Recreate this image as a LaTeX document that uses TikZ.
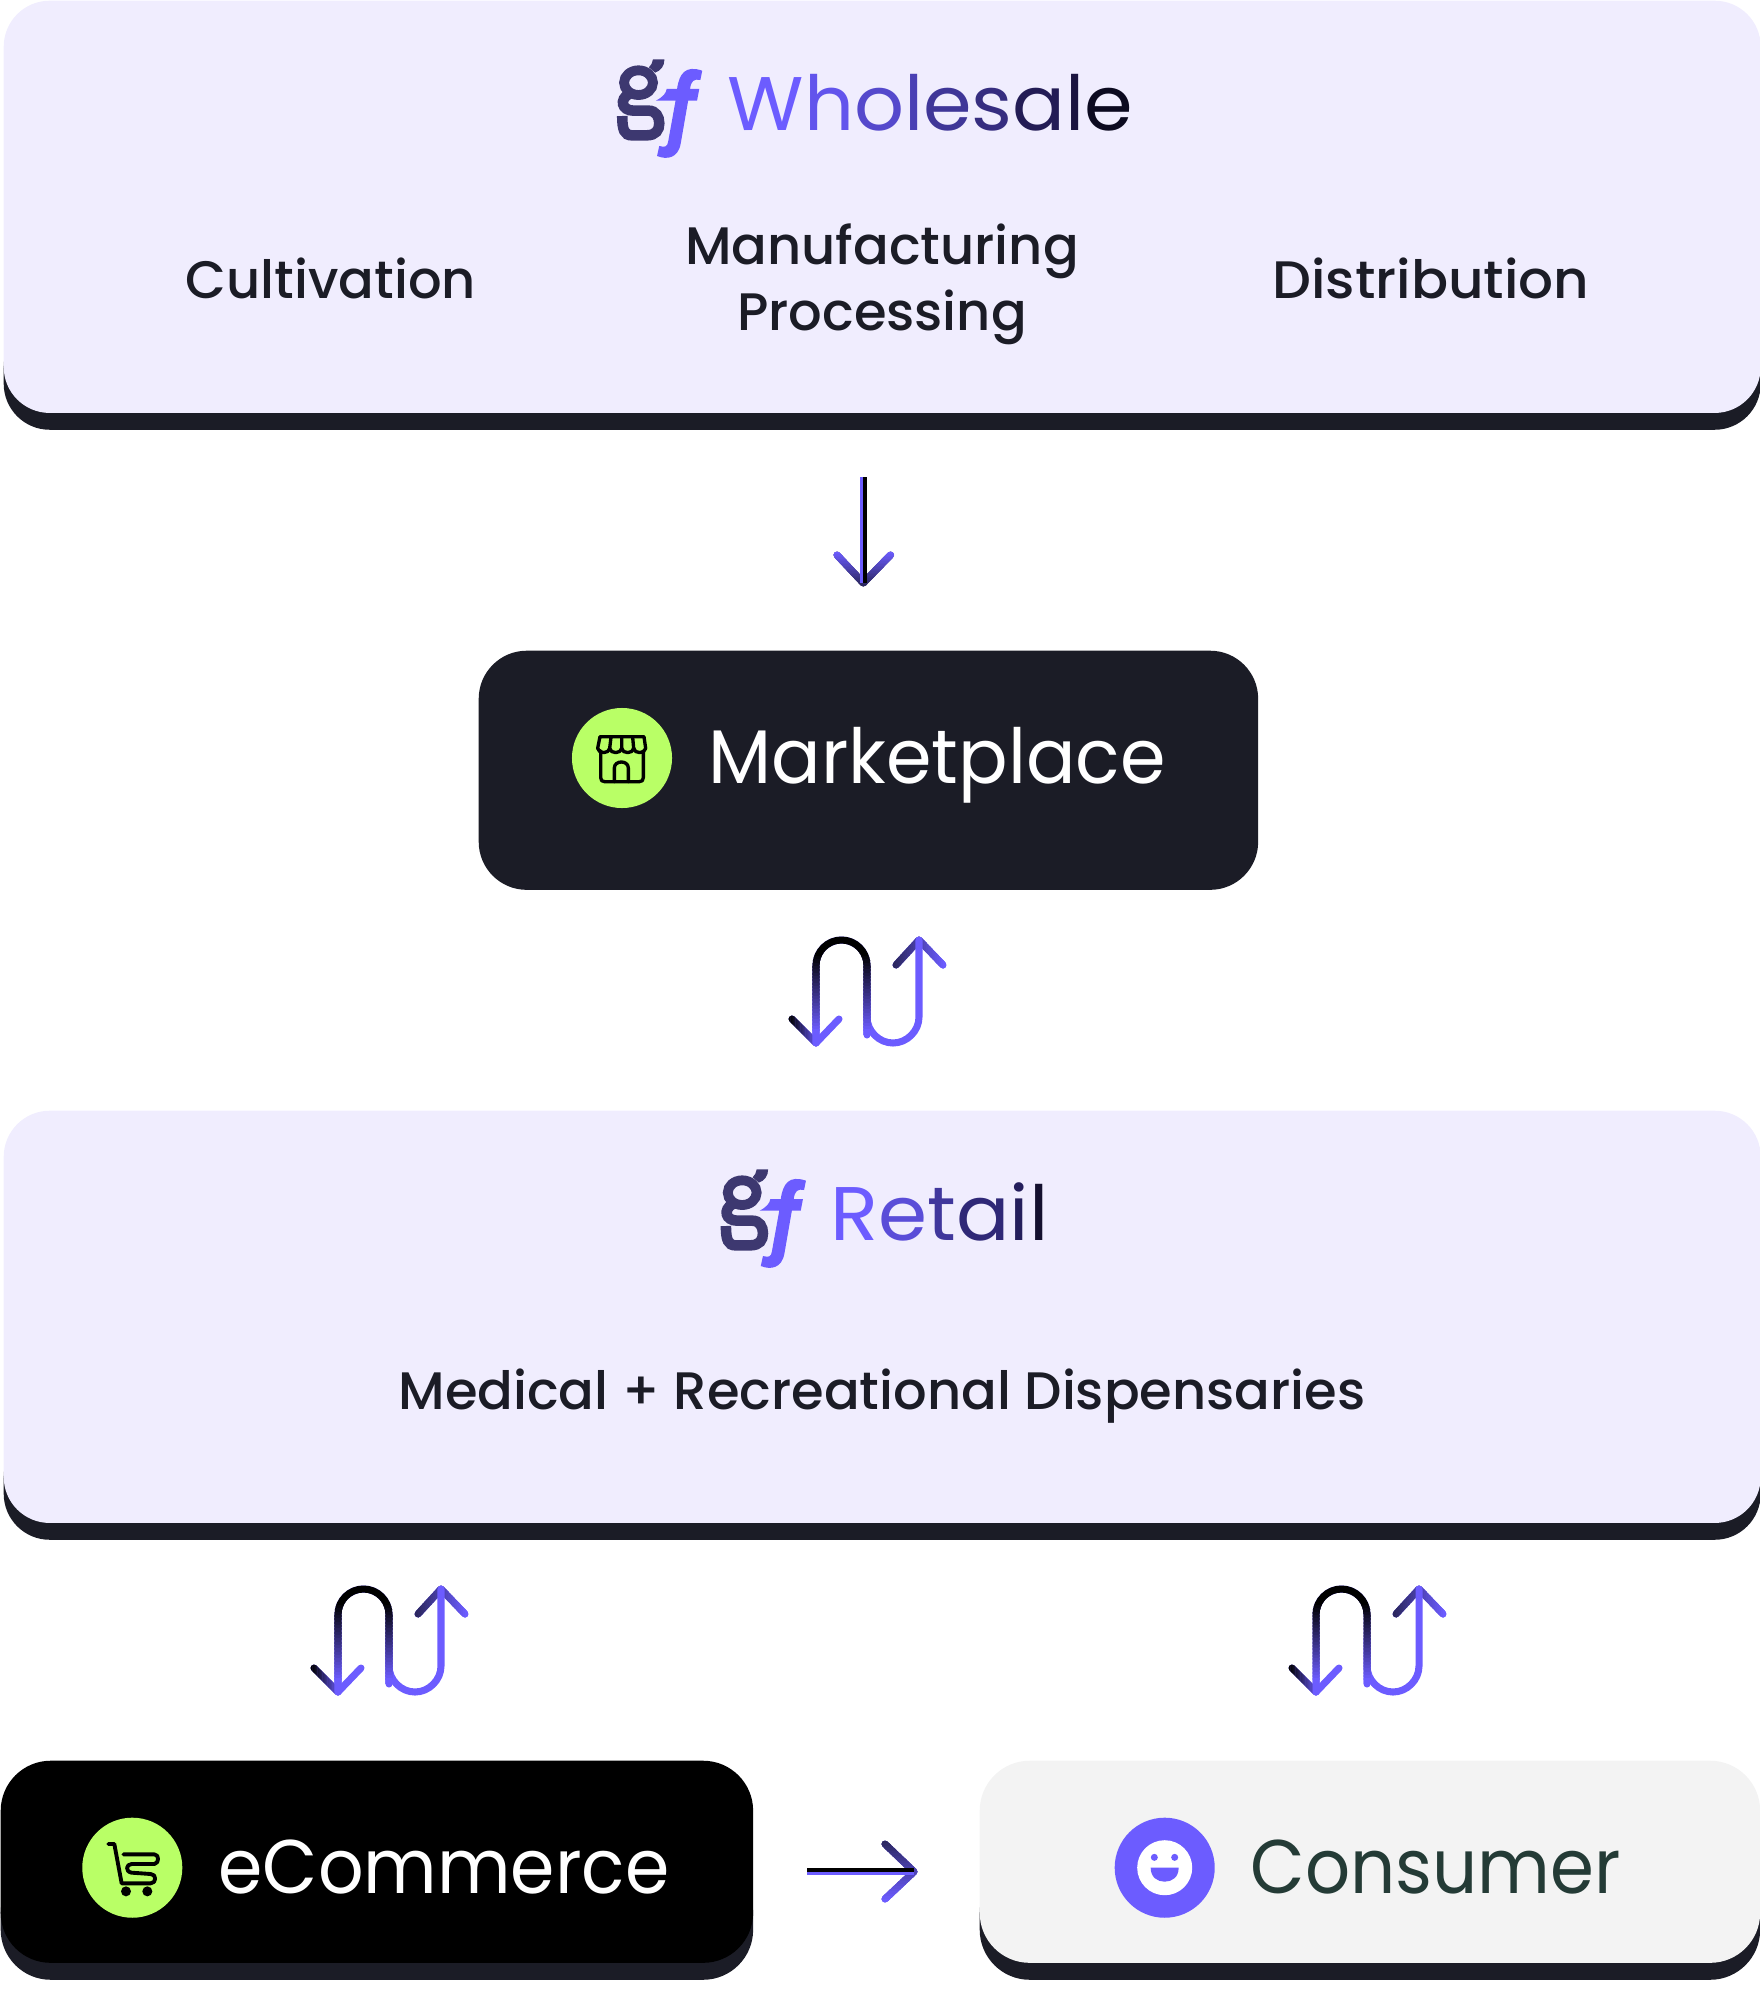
\documentclass[tikz,border=0pt]{standalone}
\usepackage{graphicx}
\usepackage{fontspec}
\setmainfont{Poppins}
\newfontfamily\medfont{Poppins Medium}
\definecolor{lav}{HTML}{F0EDFE}
\definecolor{ink}{HTML}{1B1C26}
\definecolor{lime}{HTML}{B9FF66}
\definecolor{vio}{HTML}{6C5CFF}
\definecolor{logog}{HTML}{3D3870}
\definecolor{pale}{HTML}{F3F3F3}
\definecolor{cons}{HTML}{243B36}
\definecolor{HTML2B}{HTML}{2B2760}
\newcommand{\cl}[2]{{\color[HTML]{#1}#2}}
\newcommand{\gradV}[5]{%
  \draw[arrowline,draw=#4] #5;
  \begin{scope}\clip (-3000,-3000) rectangle (3000,#1); \draw[arrowline,draw=#3] #5; \end{scope}
  \foreach \i in {0,...,23}{\begin{scope}
    \pgfmathsetmacro\ya{#1+(#2-#1)*\i/24}
    \pgfmathsetmacro\yb{#1+(#2-#1)*(\i+1.3)/24}
    \pgfmathsetmacro\pc{100*\i/23}
    \clip (-3000,\ya) rectangle (3000,\yb);
    \draw[arrowline,draw=#4!\pc!#3] #5;
  \end{scope}}}
\newcommand{\gradH}[5]{%
  \draw[arrowline,draw=#4] #5;
  \begin{scope}\clip (-3000,-3000) rectangle (#1,3000); \draw[arrowline,draw=#3] #5; \end{scope}
  \foreach \i in {0,...,23}{\begin{scope}
    \pgfmathsetmacro\xa{#1+(#2-#1)*\i/24}
    \pgfmathsetmacro\xb{#1+(#2-#1)*(\i+1.3)/24}
    \pgfmathsetmacro\pc{100*\i/23}
    \clip (\xa,-3000) rectangle (\xb,3000);
    \draw[arrowline,draw=#4!\pc!#3] #5;
  \end{scope}}}
\tikzset{
  arrowline/.style={line width=2pt,line cap=round,line join=round},
  panel/.style={anchor=north west,inner sep=0pt,rounded corners=0.46cm,draw=none},
  heading/.style={anchor=base west,inner sep=0pt,font=\fontsize{21.6pt}{26pt}\selectfont},
  sub/.style={anchor=base,inner sep=0pt,align=center,font=\medfont\fontsize{15pt}{18.6pt}\selectfont},
  disc/.style={circle,inner sep=0pt,minimum size=1cm,draw=none},
  iconline/.style={line width=0.95pt,line cap=round,line join=round,draw=black},
  sarrow/.pic={
    \gradH{78}{129}{HTML2B}{vio}{(80,25) -- (103,0) -- (127,25)}
    \draw[arrowline,draw=vio] (51,50) -- (51,77) .. controls (51,91) and (63,103) .. (77,103) .. controls (91,103) and (103,91) .. (103,77) -- (103,0);
    \gradH{-27}{3}{black}{vio}{(-24,79) -- (0,103) -- (23,79)}
    \gradV{13}{93}{black}{vio}{(0,103) -- (0,25.5) .. controls (0,11.5) and (11.5,0) .. (25.5,0) .. controls (39.5,0) and (51,11.5) .. (51,25.5) -- (51,95)}
  },
  logomark/.pic={
    \draw[logog,line width=2.8pt] (158,158) ellipse (39 and 37);
    \fill[logog] (197,88) -- (228,88) .. controls (228,108) and (218,122) .. (203,128) -- (186,112) .. controls (192,106) and (196,98) .. (197,88) -- cycle;
    \draw[logog,line width=3pt] (132,192) .. controls (106,208) and (112,242) .. (145,242) -- (185,242) .. controls (205,242) and (214,260) .. (214,280) .. controls (214,300) and (205,316) .. (180,316) -- (140,316) .. controls (120,316) and (114,300) .. (114,258);
    \fill[vio] (330,122) -- (325,150) .. controls (308,146) and (300,152) .. (297,177) -- (322,177) -- (316,212) -- (292,212) -- (272,340) .. controls (265,385) and (235,390) .. (208,378) -- (214,348) .. controls (230,353) and (236,350) .. (238,335) -- (258,212) -- (205,212) .. controls (225,200) and (232,190) .. (234,177) -- (262,177) .. controls (268,130) and (285,105) .. (330,122) -- cycle;
  },
}
\begin{document}
\begin{tikzpicture}[x=0.01cm,y=-0.01cm]
\useasboundingbox (0,0) rectangle (1759,2000);
% Wholesale
\node[panel,fill=ink,minimum width=17.56cm,minimum height=1.09cm] (wsdark) at (3,320) {};
\node[panel,fill=lav,minimum width=17.56cm,minimum height=4.12cm] (wsbox) at (3,0) {};
\pic[xscale=1/2.7,yscale=1/3] at (580,30) {logomark};
\node[heading] (wstitle) at (727,130) {\scalebox{1.03}[1]{\cl{6C5CFF}{W}\cl{6254EC}{h}\cl{5549CC}{o}\cl{4A40B4}{l}\cl{3F3698}{e}\cl{362D80}{s}\cl{231C55}{a}\cl{1B1440}{l}\cl{0C0A20}{e}}};
\node[sub,text=ink] (cult) at (331,298) {Cultivation};
\node[sub,text=ink] (manu) at (882,330) {Manufacturing\\Processing};
\node[sub,text=ink] (dist) at (1431,298) {\scalebox{1.04}[1]{Distribution}};
% arrow 1
\coordinate (a1s) at (863.3,477);
\coordinate (a1t) at (863.3,583);
\coordinate (a1l) at (837,555);
\coordinate (a1r) at (890.5,555);
\gradV{552}{586}{vio}{HTML2B}{(a1l) -- (a1t) -- (a1r)}
\fill[vio] (a1s) ++(-3.5,0) rectangle (a1t);
\fill[black] (a1s) rectangle ([xshift=0.035cm]a1t);
% Marketplace
\node[panel,fill=ink,minimum width=7.79cm,minimum height=2.39cm,rounded corners=0.48cm] (mkt) at (478,650) {};
\node[disc,fill=lime] (mktdisc) at (622,758) {};
\begin{scope}[shift={(560,680)},scale=1/3]
  \draw[iconline] (122,212) -- (122,293) .. controls (122,301) and (126,305) .. (134,305) -- (238,305) .. controls (246,305) and (250,301) .. (250,293) -- (250,212);
  \draw[iconline] (120,170) -- (252,170) -- (257,205) .. controls (255,222) and (223,222) .. (221,205) .. controls (219,222) and (187,222) .. (185,205) .. controls (183,222) and (151,222) .. (149,205) .. controls (147,222) and (115,222) .. (113,205) -- cycle;
  \draw[iconline] (153,172) -- (149,205) (185,172) -- (185,205) (218,172) -- (221,205);
  \draw[iconline] (163,305) -- (163,264) .. controls (163,240) and (205,240) .. (205,264) -- (205,305);
\end{scope}
\node[heading,text=white] (mkttext) at (708,783) {\scalebox{0.965}[1]{Marketplace}};
\pic at (816,940) {sarrow};
% Retail
\node[panel,fill=ink,minimum width=17.56cm,minimum height=1.09cm] (rtdark) at (3,1430) {};
\node[panel,fill=lav,minimum width=17.56cm,minimum height=4.12cm] (rtbox) at (3,1110) {};
\pic[xscale=1/2.7,yscale=1/3] at (683.7,1140) {logomark};
\node[heading] (rttitle) at (830,1240) {\scalebox{1.04}[1]{\cl{6C5CFF}{R}\cl{5A4DD8}{e}\cl{40379C}{t}\cl{2F2877}{a}\cl{241E5C}{i}\cl{14102F}{l}}};
\node[sub,text=ink] (med) at (882,1409) {Medical + Recreational Dispensaries};
\pic at (338,1589) {sarrow};
\pic at (1316,1589) {sarrow};
% eCommerce
\node[panel,fill=ink,minimum width=7.52cm,minimum height=1.17cm,rounded corners=0.5cm] (ecdark) at (0,1862) {};
\node[panel,fill=black,minimum width=7.52cm,minimum height=2.02cm,rounded corners=0.5cm] (ecbox) at (0,1760) {};
\node[disc,fill=lime] (ecdisc) at (132.3,1867.7) {};
\begin{scope}[shift={(60,1800)},scale=1/3]
  \draw[iconline,line width=1.1pt] (145,132) -- (163,132) -- (185,250) -- (272,250) .. controls (290,250) and (290,222) .. (272,222) -- (215,218) .. controls (195,215) and (198,192) .. (215,192) -- (283,192) .. controls (298,190) and (298,163) .. (283,163) -- (190,163);
  \fill[black] (198,274) circle (15) (262,274) circle (15);
\end{scope}
\node[heading,text=white] (ectext) at (218,1893) {\scalebox{0.94}[1]{eCommerce}};
% Consumer
\node[panel,fill=ink,minimum width=7.8cm,minimum height=1.17cm,rounded corners=0.5cm] (codark) at (979,1862) {};
\node[panel,fill=pale,minimum width=7.8cm,minimum height=2.02cm,rounded corners=0.5cm] (cobox) at (979,1760) {};
\node[disc,fill=vio] (codisc) at (1164.7,1867.7) {};
\node[circle,fill=white,inner sep=0pt,minimum size=0.55cm] (coface) at (codisc) {};
\begin{scope}[shift={(1090,1800)},scale=1/3]
  \fill[vio] (193,172) circle (10.5) (254,172) circle (10.5);
  \fill[vio] (182,203) -- (266,203) .. controls (266,232) and (246,245) .. (224,245) .. controls (202,245) and (182,232) .. (182,203) -- cycle;
\end{scope}
\node[heading,text=cons] (cotext) at (1250,1893) {\scalebox{0.93}[1]{Consumer}};
% arrow ec -> consumer
\coordinate (a5s) at (807,1871.7);
\coordinate (a5t) at (914,1871.7);
\coordinate (a5u) at (885,1844);
\coordinate (a5d) at (885,1899);
\gradV{1841}{1902}{HTML2B}{vio}{(a5u) -- (a5t) -- (a5d)}
\fill[black] (a5s) ++(0,-3.5) rectangle (a5t);
\fill[vio] (a5s) ++(0,3.5) rectangle (a5t);
\end{tikzpicture}
\end{document}
